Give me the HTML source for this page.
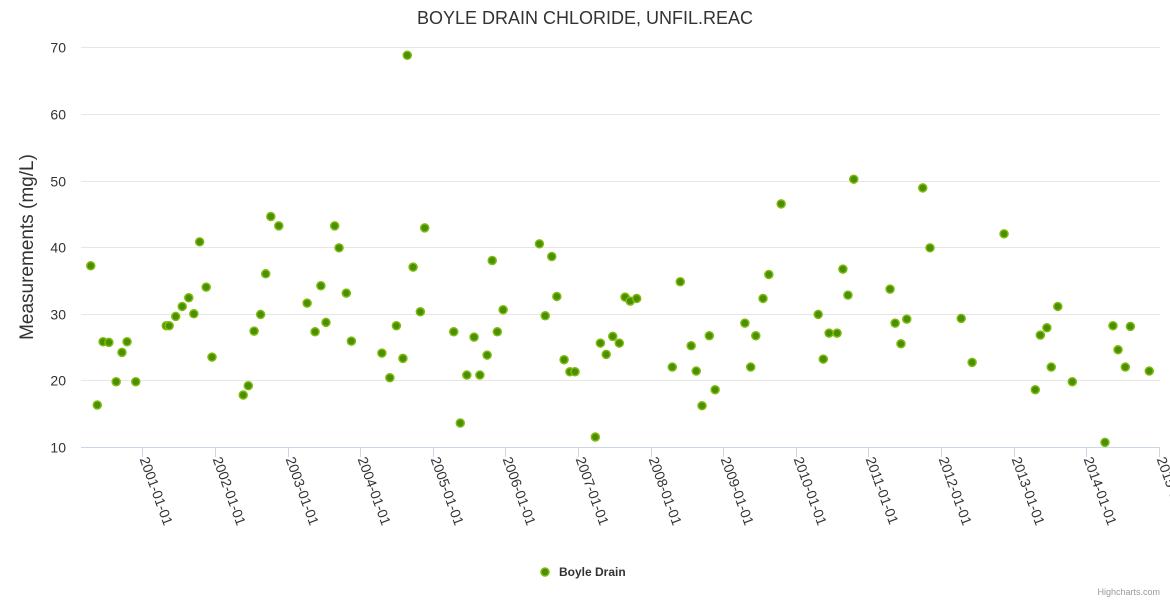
<!DOCTYPE html>
<html><head><meta charset="utf-8"><style>
body{margin:0;background:#fff;}
svg text{font-family:"Liberation Sans","DejaVu Sans",sans-serif;}
</style></head><body>
<svg id="chart" width="1170" height="600" xmlns="http://www.w3.org/2000/svg">
<rect width="1170" height="600" fill="#fff"/>
<text x="585" y="24" text-anchor="middle" font-size="18" fill="#333">BOYLE DRAIN CHLORIDE, UNFIL.REAC</text>
<text transform="translate(33,247) rotate(-90)" text-anchor="middle" font-size="19" fill="#333">Measurements (mg/L)</text>
<g id="grid"></g>
<g id="xaxis"></g>
<g id="pts"></g>
<g>
<circle cx="545" cy="572" r="4" fill="#4a8f00" stroke="#80bb10" stroke-width="1.5"/>
<text x="559" y="576" font-size="12" font-weight="bold" fill="#333">Boyle Drain</text>
</g>
<text x="1160" y="595" text-anchor="end" font-size="9" fill="#999">Highcharts.com</text>
</svg>
<script>
const years = [2000.29,2000.38,2000.46,2000.54,2000.64,2000.72,2000.79,2000.91,2001.33,2001.37,2001.46,2001.55,2001.64,2001.71,2001.79,2001.88,2001.96,2002.39,2002.46,2002.54,2002.63,2002.70,2002.77,2002.88,2003.27,2003.38,2003.46,2003.53,2003.65,2003.71,2003.81,2003.88,2004.30,2004.41,2004.50,2004.59,2004.65,2004.73,2004.83,2004.89,2005.29,2005.38,2005.47,2005.57,2005.65,2005.75,2005.82,2005.89,2005.97,2006.47,2006.55,2006.64,2006.71,2006.81,2006.89,2006.96,2007.24,2007.31,2007.39,2007.48,2007.57,2007.65,2007.72,2007.81,2008.30,2008.41,2008.56,2008.63,2008.71,2008.81,2008.89,2009.30,2009.38,2009.45,2009.55,2009.63,2009.80,2010.31,2010.38,2010.46,2010.57,2010.65,2010.72,2010.80,2011.30,2011.37,2011.45,2011.53,2011.75,2011.85,2012.28,2012.43,2012.87,2013.30,2013.37,2013.46,2013.52,2013.61,2013.81,2014.26,2014.37,2014.44,2014.54,2014.61,2014.87];
const values = [37.2,16.3,25.8,25.7,19.8,24.2,25.8,19.8,28.2,28.2,29.6,31.1,32.4,30.0,40.8,34.0,23.5,17.8,19.2,27.4,29.9,36.0,44.6,43.2,31.6,27.3,34.2,28.7,43.2,39.9,33.1,25.9,24.1,20.4,28.2,23.3,68.8,37.0,30.3,42.9,27.3,13.6,20.8,26.5,20.8,23.8,38.0,27.3,30.6,40.5,29.7,38.6,32.6,23.1,21.3,21.3,11.5,25.6,23.9,26.6,25.6,32.5,31.9,32.3,22.0,34.8,25.2,21.4,16.2,26.7,18.6,28.6,22.0,26.7,32.3,35.9,46.5,29.9,23.2,27.1,27.1,36.7,32.8,50.2,33.7,28.6,25.5,29.2,48.9,39.9,29.3,22.7,42.0,18.6,26.8,27.9,22.0,31.1,19.8,10.7,28.2,24.6,22.0,28.1,21.4];
const yTicks = [10,20,30,40,50,60,70];
const xTickYears = [2001,2002,2003,2004,2005,2006,2007,2008,2009,2010,2011,2012,2013,2014,2015];
const xTickLabels = ["2001-01-01","2002-01-01","2003-01-01","2004-01-01","2005-01-01","2006-01-01","2007-01-01","2008-01-01","2009-01-01","2010-01-01","2011-01-01","2012-01-01","2013-01-01","2014-01-01","2015-01-01"];

const NS="http://www.w3.org/2000/svg";
const L=81,R=1160,T=47.3,B=447;
function xs(yr){return 142.3+(yr-2001)*(1158.7-142.3)/14;}
function ys(v){return B-(v-10)*(B-T)/60;}
function mk(tag,at,parent){const e=document.createElementNS(NS,tag);for(const k in at)e.setAttribute(k,at[k]);parent.appendChild(e);return e;}
const grid=document.getElementById('grid');
yTicks.forEach(v=>{
  const y=Math.round(ys(v))+0.5;
  if(v>10){const l=mk('line',{x1:L,x2:R,y1:y,y2:y,stroke:'#e6e6e6','stroke-width':1},grid);
  
  }
  const t=mk('text',{x:66,y:y+5,'text-anchor':'end','font-size':14,fill:'#333'},grid);
  t.textContent=v;
  
  
});
const xa=document.getElementById('xaxis');
mk('line',{x1:L,x2:R,y1:B+0.5,y2:B+0.5,stroke:'#ccd6eb','stroke-width':1},xa);
xTickYears.forEach((yr,i)=>{
  const x=Math.round(xs(yr))+0.5;
  mk('line',{x1:x,x2:x,y1:B,y2:B+10,stroke:'#ccd6eb','stroke-width':1},xa);
  const t=mk('text',{transform:`translate(${x-3},${B+12}) rotate(70)`,'font-size':14,fill:'#333'},xa);
  t.textContent=xTickLabels[i];
  
  
});
const pts=document.getElementById('pts');
years.forEach((yr,i)=>{
  const c=mk('circle',{cx:xs(yr),cy:ys(values[i]),r:4,fill:'#4a8f00',stroke:'#80bb10','stroke-width':1.5},pts);
  
  
});
</script>
</body></html>
